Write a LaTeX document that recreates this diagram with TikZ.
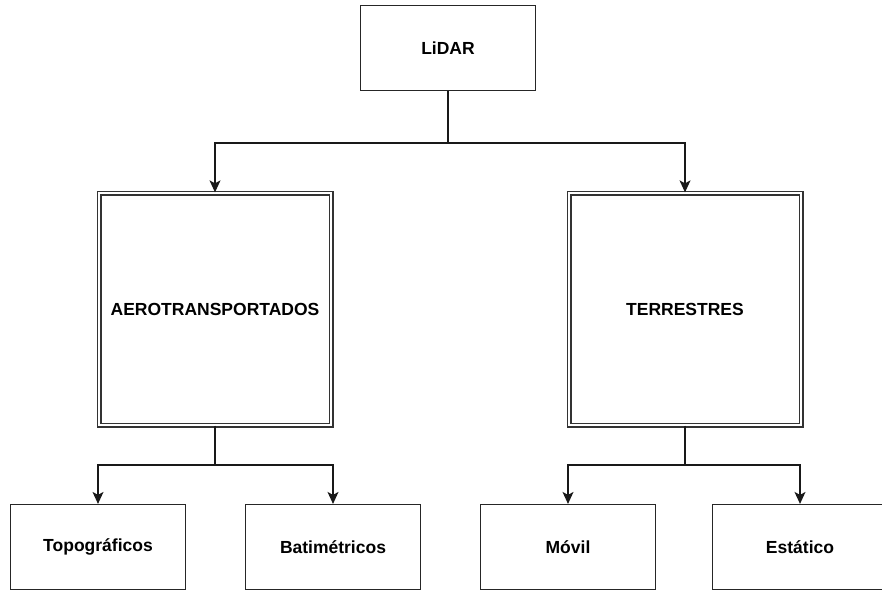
\documentclass[tikz,border=0pt]{standalone}
\usepackage{fontspec}
\setmainfont{Liberation Sans}
\usetikzlibrary{arrows.meta}
\begin{document}
\begin{tikzpicture}[x=1pt,y=-1pt,
  box/.style={draw=black!85,line width=1.2pt,minimum width=175pt,minimum height=85pt,inner sep=0pt,font=\fontsize{17.5}{20}\selectfont\bfseries},
  bigbox/.style={draw=black!80,double=white,double distance=2.4pt,line width=1.3pt,minimum width=232pt,minimum height=232pt,inner sep=0pt,font=\fontsize{17.5}{20}\selectfont\bfseries},
  conn/.style={draw=black!90,line width=1.2pt},
  arr/.style={conn,-{Stealth[length=12pt,width=11pt,inset=3pt]}}]
\useasboundingbox (0,0) rectangle (882,592);
\node[box] (lidar) at (448,48) {LiDAR};
\node[bigbox] (aero) at (215,309) {AEROTRANSPORTADOS};
\node[bigbox] (terr) at (685,309) {TERRESTRES};
\node[box] (topo) at (98,547) {Topográficos};
\node[box] (bati) at (333,547) {Batimétricos};
\node[box] (movil) at (568,547) {Móvil};
\node[box] (esta) at (800,547) {Estático};
\coordinate (j1) at (448,143);
\coordinate (j2) at (215,465);
\coordinate (j3) at (685,465);
\draw[conn] (lidar.south) -- (j1);
\draw[arr] (j1) -| (aero.north);
\draw[arr] (j1) -| (terr.north);
\draw[conn] (aero.south) -- (j2);
\draw[arr] (j2) -| (topo.north);
\draw[arr] (j2) -| (bati.north);
\draw[conn] (terr.south) -- (j3);
\draw[arr] (j3) -| (movil.north);
\draw[arr] (j3) -| (esta.north);
\end{tikzpicture}
\end{document}
